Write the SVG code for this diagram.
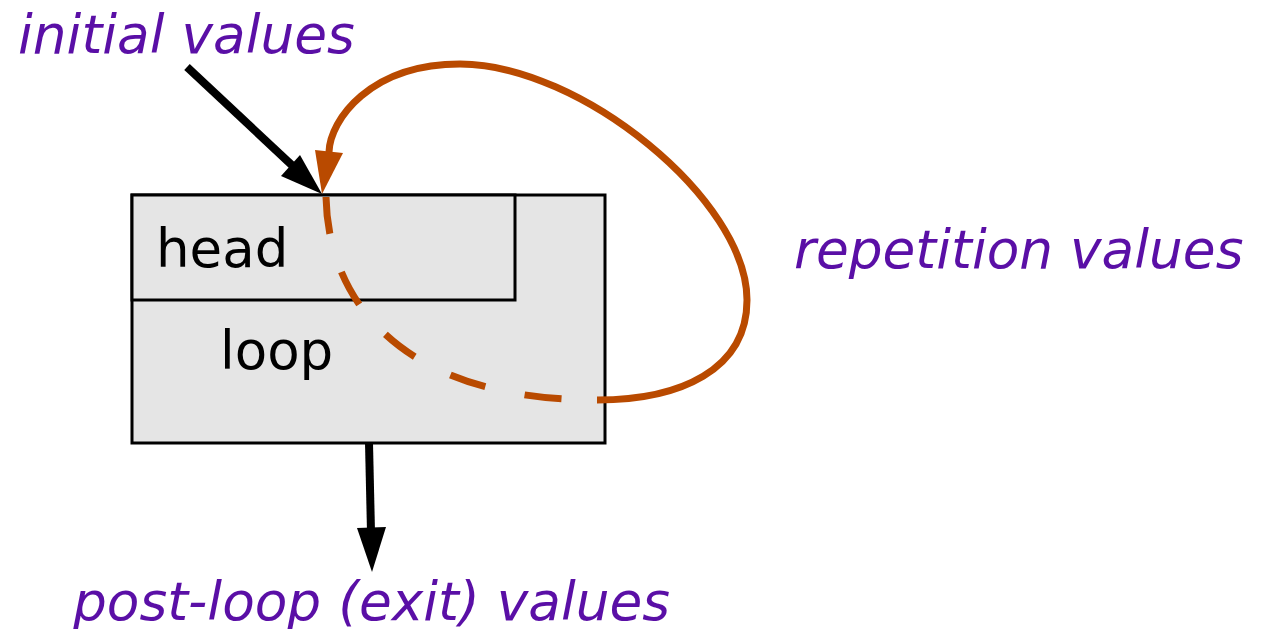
<svg xmlns="http://www.w3.org/2000/svg" width="1265" height="629" viewBox="0 0 1265 629">
<style>
.lbl{font-family:"DejaVu Sans",sans-serif;font-style:italic;font-size:53.3px;fill:#5a0fa6}
.txt{font-family:"DejaVu Sans",sans-serif;font-size:53px;fill:#000}
.box{fill:#e5e5e5;stroke:#000;stroke-width:3}
.rep{fill:none;stroke:#b94a00;stroke-width:7}
</style>
<rect width="1265" height="629" fill="#fff"/>
<g id="loop">
<rect class="box" x="132" y="195" width="473" height="248"/>
<text class="txt" x="220" y="369">loop</text>
</g>
<g id="head">
<rect class="box" x="132" y="195" width="383" height="105"/>
<text class="txt" x="156" y="267">head</text>
</g>
<g id="labels">
<text class="lbl" x="18" y="53">initial values</text>
<text class="lbl" x="794" y="268">repetition values</text>
<text class="lbl" x="73" y="620">post-loop (exit) values</text>
</g>
<g id="connectors">
<line x1="187" y1="67" x2="296" y2="169" stroke="#000" stroke-width="8"/>
<polygon points="281,176 300,155 322,194" fill="#000"/>
<line x1="369" y1="443" x2="371" y2="532" stroke="#000" stroke-width="8"/>
<polygon points="357,528 386,527 372,572" fill="#000"/>
<path class="rep" d="M326,197 C328,300 400,400 597,400" stroke-dasharray="37 40"/>
<path class="rep" d="M597,400 C680,400 747,370 747,300 C747,200 580,64 460,64 C370,64 330,120 329,152"/>
<polygon points="315,150 343,153 322,194" fill="#b94a00"/>
</g>
</svg>
